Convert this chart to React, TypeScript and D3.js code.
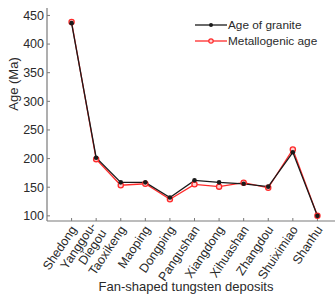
import React, { useEffect, useRef } from "react";
import * as d3 from "d3";

const deposits = [
  "Shedong", "Yanggou-\nDiegou", "Taoxikeng", "Maoping", "Dongping", "Pangushan",
  "Xiangdong", "Xihuashan", "Zhangdou", "Shuiximiao", "Shanhu",
];
const graniteAge = [436.5, 201.5, 158.5, 158.5, 132, 162, 158.5, 156, 151, 211, 100];
const metalloAge = [438.5, 199, 153.5, 156, 129, 155, 151, 158, 149, 216, 100];
const yTicks = [100, 150, 200, 250, 300, 350, 400, 450];

const W = 335;
const H = 295;

const App = () => {
  const ref = useRef<SVGSVGElement>(null);

  useEffect(() => {
    const svg = d3.select(ref.current);
    svg.selectAll("*").remove();

    const left = 47, right = 342, top = 8, bottom = 221;
    const font = "Liberation Sans, Arial, sans-serif";
    const axisColor = "#7a7a7a";
    const txt = "#2a2a2a";

    const x = d3.scalePoint<string>().domain(deposits).range([left, right]).padding(1);
    const y = d3.scaleLinear().domain([91, 463]).range([bottom, top]);

    // axes
    svg.append("line").attr("x1", left).attr("x2", left).attr("y1", top).attr("y2", bottom)
      .attr("stroke", axisColor).attr("stroke-width", 1.2);
    svg.append("line").attr("x1", left).attr("x2", W).attr("y1", bottom).attr("y2", bottom)
      .attr("stroke", axisColor).attr("stroke-width", 1.2);

    yTicks.forEach(t => {
      svg.append("line").attr("x1", left).attr("x2", left + 3).attr("y1", y(t)).attr("y2", y(t))
        .attr("stroke", axisColor).attr("stroke-width", 1);
      svg.append("text").attr("x", left - 3).attr("y", y(t)).attr("dy", "0.35em")
        .attr("text-anchor", "end").style("font-family", font).style("font-size", "12.5px")
        .attr("fill", txt).text(t);
    });

    deposits.forEach(d => {
      const px = x(d)!;
      svg.append("line").attr("x1", px).attr("x2", px).attr("y1", bottom).attr("y2", bottom - 3)
        .attr("stroke", axisColor).attr("stroke-width", 1);
      const lines = d.split("\n");
      const t = svg.append("text")
        .attr("transform", `translate(${px + 2},${bottom + 6}) rotate(-56)`)
        .attr("text-anchor", "end").style("font-family", font).style("font-size", "12.5px")
        .attr("fill", txt);
      lines.forEach((l, i) => {
        t.append("tspan").attr("x", 0)
          .attr("dy", i === 0 ? `${0.35 - (lines.length - 1) * 0.5}em` : "1.0em").text(l);
      });
    });

    svg.append("text").attr("transform", `translate(13,84) rotate(-90)`).attr("text-anchor", "middle")
      .attr("dy", "0.35em").style("font-family", font).style("font-size", "13px").attr("fill", txt)
      .text("Age (Ma)");
    svg.append("text").attr("x", 186).attr("y", 286).attr("dy", "0.35em").attr("text-anchor", "middle")
      .style("font-family", font).style("font-size", "13px").attr("fill", txt)
      .text("Fan-shaped tungsten deposits");

    const line = d3.line<number>().x((_, i) => x(deposits[i])!).y(v => y(v));

    // metallogenic (red, open circles)
    svg.append("path").datum(metalloAge).attr("d", line).attr("fill", "none")
      .attr("stroke", "#ff2a2a").attr("stroke-width", 1.3);
    // granite (black)
    svg.append("path").datum(graniteAge).attr("d", line).attr("fill", "none")
      .attr("stroke", "#1a1a1a").attr("stroke-width", 1.3);

    svg.selectAll(".red").data(metalloAge).enter().append("circle")
      .attr("cx", (_, i) => x(deposits[i])!).attr("cy", v => y(v)).attr("r", 2.6)
      .attr("fill", "#ffd0d0").attr("stroke", "#ff2a2a").attr("stroke-width", 1.3);
    svg.selectAll(".blk").data(graniteAge).enter().append("circle")
      .attr("cx", (_, i) => x(deposits[i])!).attr("cy", v => y(v)).attr("r", 2.3)
      .attr("fill", "#1a1a1a");

    // legend
    const lg = [
      { name: "Age of granite", color: "#1a1a1a", open: false, y: 25 },
      { name: "Metallogenic age", color: "#ff2a2a", open: true, y: 41 },
    ];
    lg.forEach(l => {
      svg.append("line").attr("x1", 195).attr("x2", 227).attr("y1", l.y).attr("y2", l.y)
        .attr("stroke", l.color).attr("stroke-width", 1.3);
      svg.append("circle").attr("cx", 211).attr("cy", l.y).attr("r", l.open ? 2.2 : 2)
        .attr("fill", l.open ? "#ffd0d0" : l.color).attr("stroke", l.color).attr("stroke-width", l.open ? 1.2 : 0);
      svg.append("text").attr("x", 228).attr("y", l.y).attr("dy", "0.35em")
        .style("font-family", font).style("font-size", "11.8px").attr("fill", txt).text(l.name);
    });
  }, []);

  return (
    <svg ref={ref} width={W} height={H}
      style={{ position: "absolute", left: 0, top: 0, background: "white" }} />
  );
};

export default App;
